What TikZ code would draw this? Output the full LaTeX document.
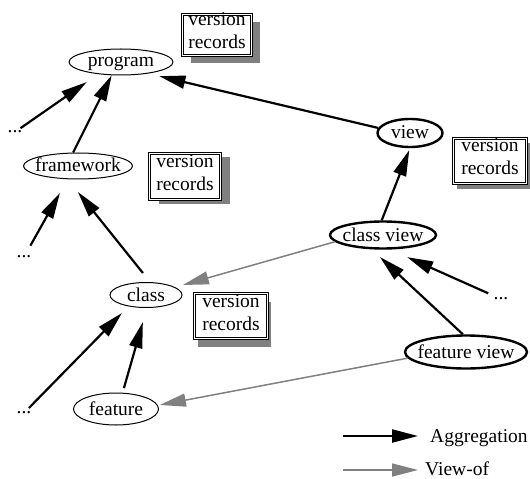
\documentclass[tikz,border=0pt]{standalone}
\usepackage{fontspec}
\setmainfont{Liberation Serif}
\usetikzlibrary{arrows.meta,shapes.geometric,shadows}

\definecolor{linegray}{RGB}{128,128,128}
\definecolor{shadowgray}{RGB}{128,128,128}

% label set with its baseline a fixed distance below the node centre
\newcommand{\ellab}[2][6bp]{\makebox[0pt]{\raisebox{-#1}[0pt][0pt]{#2}}}
% two-line box label: last baseline 14bp below the node centre
\newcommand{\vrlabel}{\makebox[0pt]{\raisebox{-14bp}[0pt][0pt]{%
  \parbox[b]{90bp}{\centering version\\records}}}}

\begin{document}
\begin{tikzpicture}[x=1bp,y=-1bp,
  every node/.style={font=\fontsize{19.5bp}{23bp}\selectfont},
  thinell/.style={ellipse, draw, line width=1bp, inner sep=0pt},
  thickell/.style={ellipse, draw, line width=2.4bp, inner sep=0pt},
  vrec/.style={rectangle, draw, fill=white, double, double distance=1.4bp,
    line width=0.8bp, inner sep=0pt},
  vshadow/.style 2 args={drop shadow={shadow xshift=#1bp, shadow yshift=-#2bp,
    fill=shadowgray, opacity=1}},
  dotsnode/.style={inner sep=0pt},
  agg/.style={line width=2.2bp, -{Triangle[length=26bp,width=13bp]}},
  viewof/.style={draw=linegray, line width=1.5bp,
    -{Triangle[length=26bp,width=13bp]}}]

\useasboundingbox (0,0) rectangle (530,479);

% entity nodes
\node[thinell, minimum width=104bp, minimum height=26bp] (prog) at (121,62) {\ellab[5bp]{program}};
\node[thinell, minimum width=109bp, minimum height=26bp] (fw) at (78,166) {\ellab{framework}};
\node[thinell, minimum width=72bp, minimum height=25bp] (cls) at (146,295) {\ellab{class}};
\node[thinell, minimum width=85bp, minimum height=32bp] (feat) at (116,409) {\ellab{feature}};
\node[thickell, minimum width=65bp, minimum height=28bp] (view) at (410,133) {\ellab{view}};
\node[thickell, minimum width=106bp, minimum height=27bp] (cview) at (383,235) {\ellab{class view}};
\node[thickell, minimum width=122bp, minimum height=33bp] (fview) at (466,352) {\ellab{feature view}};

% version record boxes with offset shadows
\node[vrec, vshadow={8}{8}, minimum width=69bp, minimum height=41bp] (vr1) at (217,35) {\vrlabel};
\node[vrec, vshadow={9}{4}, minimum width=71bp, minimum height=46bp] (vr2) at (185,176.5) {\vrlabel};
\node[vrec, vshadow={3}{5}, minimum width=73bp, minimum height=45bp] (vr3) at (490,161) {\vrlabel};
\node[vrec, vshadow={3}{8}, minimum width=73bp, minimum height=45bp] (vr4) at (231,316) {\vrlabel};

% elided siblings
\node[dotsnode] (d1) at (15,132) {...};
\node[dotsnode] (d2) at (24,257) {...};
\node[dotsnode] (d3) at (24,413) {...};
\node[dotsnode] (d4) at (501,299) {...};

% aggregation links
\draw[agg, shorten <=6.7bp, shorten >=13.8bp] (d1.center) -- (prog.208);
\draw[agg] (fw.110) -- (prog.235);
\draw[agg, shorten >=11.5bp] (view.171) -- (prog.337);
\draw[agg, shorten <=13bp, shorten >=15.7bp] (d2.center) -- (fw.232);
\draw[agg, shorten <=11.6bp, shorten >=16.3bp] (cls.72) -- (fw.232);
\draw[agg, shorten <=7bp, shorten >=9.3bp] (d3.center) -- (cls.213);
\draw[agg, shorten <=4.8bp, shorten >=14.6bp] (feat.68) -- (cls.274);
\draw[agg, shorten >=11.2bp] (fview.100) -- (cview.232);
\draw[agg, shorten <=14bp, shorten >=18.7bp] (d4.center) -- (cview.296);
\draw[agg, shorten >=2bp] (cview.95) -- (view.270);

% view-of links
\draw[viewof, shorten >=8bp] (cview.188) -- (cls.15);
\draw[viewof, shorten >=2bp] (fview.186) -- (feat.5);

% legend
\coordinate (la1) at (343,436);
\coordinate (la2) at (418,436);
\coordinate (lv1) at (343,470);
\coordinate (lv2) at (418,470);
\draw[agg] (la1) -- (la2);
\draw[viewof] (lv1) -- (lv2);
\node[anchor=base west, inner sep=0pt] (lagg) at (430,442) {Aggregation};
\node[anchor=base west, inner sep=0pt] (lview) at (425,475) {View-of};

\end{tikzpicture}
\end{document}
